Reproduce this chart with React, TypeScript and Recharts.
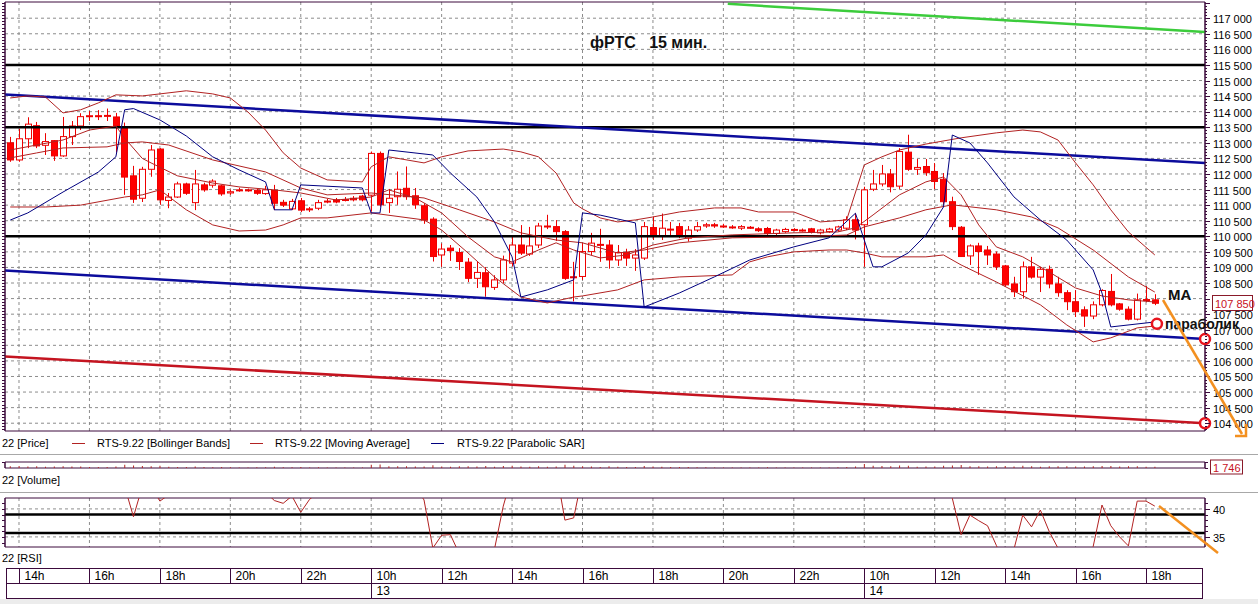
import React from "react";
import {
  ComposedChart,
  Bar,
  Line,
  XAxis,
  YAxis,
  CartesianGrid,
  ReferenceLine,
  ReferenceDot,
  ReferenceArea,
} from "recharts";

// 15-minute candles, index 0 = 13:45 on the 12th
const opens = [
  113000, 112450, 113130, 113550, 112920, 113070, 112580, 113200, 113540, 113840,
  113870, 113860, 113830, 113500, 111940, 111220, 112150, 112800, 111150, 111260,
  111680, 111080, 111650, 111640, 111620, 111390, 111490, 111490, 111480, 111370,
  111470, 111090, 110880, 111140, 110880, 110900, 111110, 111170, 111180, 111220,
  111290, 111320, 112660, 111080, 111270, 111540, 111300, 110980, 110550, 109400,
  109620, 109480, 109170, 108650, 108830, 108360, 108600, 109140, 109720, 109430,
  109720, 110330, 110310, 110150, 108700, 108710, 109510, 109720, 109720, 109240,
  109480, 109300, 109300, 110280, 110010, 110220, 110310, 109940, 110200, 110330,
  110370, 110330, 110300, 110260, 110290, 110240, 110250, 110090, 110150, 110220,
  110200, 110240, 110110, 110150, 110200, 110260, 110530, 110370, 111510, 111680,
  112000, 111610, 112700, 112150, 112240, 112080, 111830, 111110, 110290, 109370,
  109690, 109560, 109430, 109050, 108470, 108220, 109020, 108690, 108940, 108470,
  108190, 107900, 107640, 107440, 107800, 108230, 107830, 107660, 107340, 107960,
  107960,
];
const closes = [
  112450, 113130, 113600, 112900, 113040, 112580, 113200, 113540, 113840, 113870,
  113860, 113880, 113540, 111900, 111190, 112150, 112770, 111170, 111260, 111680,
  111380, 111680, 111490, 111770, 111360, 111430, 111490, 111480, 111380, 111490,
  111060, 111000, 111120, 110840, 110850, 111080, 111130, 111100, 111170, 111170,
  111170, 112660, 111010, 111220, 111510, 111270, 111010, 110520, 109350, 109590,
  109540, 109190, 108650, 108840, 108380, 108600, 109240, 109720, 109460, 109690,
  110330, 110330, 110150, 108650, 108680, 109510, 109780, 109740, 109240, 109480,
  109300, 109400, 110310, 110010, 110260, 110230, 110010, 110200, 110310, 110370,
  110330, 110320, 110290, 110310, 110290, 110180, 110090, 110200, 110220, 110220,
  110200, 110130, 110200, 110230, 110300, 110530, 110200, 111490, 111680, 112000,
  111590, 112720, 112150, 112210, 112040, 111760, 111110, 110310, 109350, 109690,
  109510, 109400, 109020, 108440, 108220, 109020, 108690, 108940, 108470, 108190,
  107900, 107580, 107440, 107800, 108260, 107800, 107660, 107340, 107960, 107970,
  107850,
];
const highs = [
  113190, 113450, 113820, 113670, 113310, 113090, 113830, 113700, 113950, 114020,
  114050, 114100, 113960, 113650, 112260, 112230, 112930, 112830, 111390, 111750,
  111720, 112130, 111720, 111830, 111650, 111500, 111560, 111530, 111520, 111620,
  111650, 111170, 111200, 111230, 110940, 111170, 111200, 111230, 111260, 111290,
  111330, 112720, 112720, 111520, 112080, 112240, 111550, 111060, 110610, 109770,
  109720, 109620, 109300, 109180, 109010, 108750, 109380, 110040, 110360, 110300,
  110430, 110690, 110520, 110200, 109180, 109780, 110110, 110240, 109880, 109720,
  109600, 109590, 110460, 110630, 110730, 110460, 110430, 110330, 110460, 110430,
  110430, 110400, 110360, 110360, 110330, 110290, 110300, 110240, 110270, 110260,
  110250, 110270, 110240, 110270, 110340, 110640, 110740, 111590, 112130, 112290,
  112160, 112830, 113260, 112480, 112480, 112350, 112030, 111270, 110330, 109740,
  109790, 109690, 109510, 109080, 108700, 109190, 109340, 109020, 109060, 108700,
  108270, 108270, 107750, 107910, 108300, 108790, 107860, 107750, 108160, 108400,
  108140,
];
const lows = [
  112390, 112390, 112830, 112830, 112610, 112420, 112550, 112930, 113410, 113700,
  113730, 113700, 112690, 111330, 111070, 111100, 111910, 111010, 110900, 111230,
  111330, 110840, 111430, 111560, 111300, 111330, 111430, 111430, 111330, 111330,
  110840, 110940, 110840, 110780, 110780, 110840, 111060, 111060, 111120, 111120,
  111120, 110790, 110950, 110750, 111010, 111170, 110880, 110400, 109190, 109020,
  109210, 108920, 108530, 108340, 108060, 108280, 108500, 109030, 109400, 109370,
  109620, 110230, 109850, 108600, 107910, 108600, 109400, 109180, 108960, 109050,
  109050, 108890, 109240, 109880, 109880, 110010, 109940, 109830, 110140, 110270,
  110270, 110270, 110240, 110200, 110240, 110140, 110040, 110040, 110110, 110160,
  110150, 110090, 110060, 110110, 110150, 110200, 109900, 109020, 111450, 111600,
  111410, 111520, 112100, 111970, 111940, 111510, 111010, 110200, 109350, 109080,
  108760, 109080, 108920, 108380, 108050, 108000, 108640, 108210, 108330, 108060,
  107630, 107410, 107090, 107340, 107750, 107750, 107610, 107300, 107300, 107880,
  107790,
];
const volumes = [
  2200, 2600, 2000, 2400, 1800, 2100, 2300, 2000, 1900, 1500,
  1300, 1400, 1900, 4200, 3200, 2600, 2300, 3100, 1700, 1500,
  1400, 1900, 1200, 1100, 1300, 900, 800, 700, 900, 1000,
  1600, 900, 1000, 1200, 800, 900, 700, 800, 600, 700,
  800, 4500, 4800, 2400, 2200, 2300, 1900, 2000, 3800, 2100,
  1700, 2200, 2500, 2000, 2700, 1800, 2600, 2900, 2000, 1800,
  2500, 1600, 2100, 4300, 3000, 2400, 1900, 1500, 2200, 1700,
  1400, 1300, 2600, 1900, 1600, 1200, 1400, 1300, 1000, 900,
  800, 800, 700, 700, 800, 700, 900, 800, 700, 600,
  600, 800, 700, 800, 900, 1500, 1900, 5200, 3100, 2600,
  2300, 3400, 3000, 1800, 2000, 2100, 2900, 3200, 3900, 2200,
  2300, 1900, 2400, 2800, 2100, 3000, 2200, 1800, 2300, 2200,
  2400, 2100, 2000, 2300, 2600, 2800, 1900, 2200, 2500, 1700,
  1746,
];
const rsi = [
  52, 55, 58, 54, 55, 53, 57, 60, 62, 63,
  62, 63, 58, 44, 38.6, 44, 44, 41.4, 42.5, 44,
  43, 45, 44, 45, 44, 44, 44.5, 44.5, 44, 43,
  41.5, 41.0, 42.3, 39.4, 41.7, 43, 44, 44, 44.5, 44,
  43.5, 52, 45, 46, 47, 46, 44, 41.6, 33.0, 35.3,
  35.4, 32.0, 28, 29, 27, 32.8, 40.5, 46, 45, 46,
  50, 50, 47, 38.0, 38.4, 46, 48, 47, 45, 46,
  45, 45, 52, 50, 51, 51, 49, 50, 51, 51,
  51, 51, 50, 51, 51, 50, 49, 50, 50, 50,
  50, 49, 50, 50, 51, 54, 51, 58, 60, 62,
  59, 62, 60, 59, 57, 54, 46, 41.9, 35.4, 38.9,
  37.9, 37.0, 33.5, 30, 32.8, 38.9, 36.8, 39.8, 36, 33.0,
  30, 29, 28, 33.3, 40.7, 37.0, 35, 33.4, 41.4, 41.4,
  40.5,
];

type Pt = [number, number];

// indicator lines, [candle index, price]
const bbUpper: Pt[] = [
  [0, 114440], [2, 114505], [4, 114470], [6, 113960], [8, 114060], [10, 114280], [12, 114540],
  [15, 114505], [17, 114570], [20, 114670], [23, 114570], [25, 114440], [27, 113990], [29, 113410],
  [31, 112680], [33, 112190], [36, 111810], [40, 111745], [41, 112230], [43, 112550], [47, 112355],
  [49, 112550], [52, 112740], [56, 112800], [58, 112710], [60, 112550], [62, 112030], [64, 111070],
  [65, 110880], [67, 110590], [69, 110460], [71, 110525], [73, 110620], [76, 110780], [80, 110910],
  [83, 110910], [85, 110780], [89, 110780], [92, 110460], [95, 110525], [97, 112290], [99, 112550],
  [101, 112770], [104, 112960], [108, 113160], [112, 113320], [115, 113410], [117, 113350],
  [119, 113090], [121, 112355], [123, 111650], [125, 110850], [127, 110140], [130, 109400],
];
const bbMiddle: Pt[] = [
  [0, 112515], [3, 112675], [6, 112835], [11, 112870], [13, 112995], [15, 113030], [18, 112930],
  [23, 112450], [29, 112065], [33, 111550], [36, 111330], [41, 111390], [47, 111230], [51, 110850],
  [55, 110460], [58, 110110], [62, 109880], [65, 109790], [69, 109460], [72, 109560], [76, 109790],
  [82, 109950], [89, 109980], [95, 110040], [97, 110300], [101, 110590], [104, 110850], [107, 111010],
  [112, 110850], [116, 110620], [119, 110270], [123, 109560], [127, 108695], [130, 108210],
];
const bbLower: Pt[] = [
  [0, 110940], [4, 110940], [8, 111000], [13, 111260], [15, 111330], [17, 111490], [20, 110850],
  [23, 110365], [26, 110170], [29, 110200], [31, 110365], [33, 110590], [36, 110590], [41, 110750],
  [47, 110525], [49, 110200], [52, 109465], [55, 108695], [58, 108050], [61, 107860], [64, 108050],
  [65, 108085], [69, 108280], [72, 108600], [76, 108695], [82, 108760], [84, 109180], [86, 109340],
  [89, 109500], [93, 109560], [95, 109560], [97, 109465], [99, 109340], [104, 109340], [106, 109400],
  [108, 109080], [112, 108535], [117, 107800], [120, 107155], [123, 106610], [125, 106740],
  [128, 107060], [130, 107120],
];
const movingAvg: Pt[] = [
  [0, 112770], [3, 112930], [6, 113090], [9, 113410], [12, 113540], [13, 113150], [15, 112500],
  [16, 112355], [19, 111940], [23, 111710], [26, 111585], [30, 111490], [33, 111390], [37, 111165],
  [41, 111260], [43, 111490], [46, 111230], [49, 110750], [52, 109980], [55, 109340], [57, 109175],
  [60, 109560], [62, 109790], [64, 109560], [67, 109305], [70, 109400], [73, 109720], [77, 109950],
  [82, 110045], [89, 110110], [94, 110140], [96, 110270], [98, 110685], [101, 111330], [104, 111745],
  [106, 111905], [108, 111330], [110, 110365], [112, 109660], [115, 109340], [118, 108855],
  [121, 108340], [124, 108085], [127, 107960], [130, 107890],
];
const parabolicSar: Pt[] = [
  [0, 110520], [2, 110750], [6, 111420], [10, 112060], [12, 112550], [13, 114060], [14, 114100],
  [17, 113735], [20, 113220], [23, 112550], [26, 112130], [29, 111745], [30, 110850], [32, 110850],
  [33, 111650], [40, 111550], [41, 110750], [42, 110750], [43, 112770], [48, 112610], [50, 112030],
  [53, 111260], [55, 110460], [57, 109340], [58, 108050], [61, 108280], [64, 108600], [65, 110750],
  [67, 110680], [71, 110430], [72, 107730], [76, 108180], [80, 108700], [84, 109240], [89, 109660],
  [93, 109950], [96, 110740], [98, 109020], [99, 109020], [102, 109465], [104, 110040], [106, 110940],
  [107, 113250], [109, 112996], [111, 112355], [114, 111265], [117, 110525], [120, 109880],
  [123, 108920], [124, 108180], [125, 107090], [130, 107250],
];

const X_DOMAIN: [number, number] = [-0.59, 135.7];
const PRICE_DOMAIN: [number, number] = [103750, 117520];
const RSI_DOMAIN: [number, number] = [33.2, 41.95];
const VOL_DOMAIN: [number, number] = [0, 8000];

// hand-drawn lines
const channelTop: Pt[] = [[X_DOMAIN[0], 114550], [X_DOMAIN[1], 112350]];
const channelBottom: Pt[] = [[X_DOMAIN[0], 108900], [X_DOMAIN[1], 106700]];
const greenTrend: Pt[] = [[81.5, 117460], [X_DOMAIN[1], 116560]];
const redTrend: Pt[] = [[X_DOMAIN[0], 106140], [X_DOMAIN[1], 104000]];
const levels = [115500, 113500, 110000];
const rsiLevels = [39, 35.7];
const sarMark: Pt = [130.24, 107190];

const hourTicks = [1, 9, 17, 25, 33, 41, 49, 57, 65, 73, 81, 89, 97, 105, 113, 121, 129];
const hourLabels = ["14h", "16h", "18h", "20h", "22h", "10h", "12h", "14h", "16h", "18h", "20h", "22h", "10h", "12h", "14h", "16h", "18h"];
const dayLabels: Record<number, string> = { 41: "13", 97: "14" };

const lastClose = closes[closes.length - 1];
const lastVolume = volumes[volumes.length - 1];

const gridPrices: number[] = [];
for (let v = 104000; v <= 117000; v += 500) gridPrices.push(v);
const minorPrices: number[] = [];
for (let v = 103800; v <= 117500; v += 100) minorPrices.push(v);
const rsiTicks = [34, 35, 36, 37, 38, 39, 40, 41];

const FONT = '"Liberation Sans", Arial, sans-serif';
const AXIS = "#3c0a3c";
const GRID = "#8c8c8c";
const CANDLE = "#ee0000";
const BAND = "#b22222";
const ORANGE = "#f39020";

const fmt = (v: number) => String(v).replace(/\B(?=(\d{3})+(?!\d))/g, " ");

const priceRows = (() => {
  const rows = new Map<number, Record<string, any>>();
  const at = (i: number) => {
    let r = rows.get(i);
    if (!r) {
      r = { i };
      rows.set(i, r);
    }
    return r;
  };
  opens.forEach((o, i) =>
    Object.assign(at(i), { open: o, close: closes[i], high: highs[i], low: lows[i], range: [lows[i], highs[i]] })
  );
  const put = (key: string, pts: Pt[]) => pts.forEach(([i, v]) => (at(i)[key] = v));
  put("bbU", bbUpper);
  put("bbM", bbMiddle);
  put("bbL", bbLower);
  put("ma", movingAvg);
  put("sar", parabolicSar);
  put("chTop", channelTop);
  put("chBot", channelBottom);
  put("green", greenTrend);
  put("red", redTrend);
  return [...rows.values()].sort((a, b) => a.i - b.i);
})();
const volumeRows = volumes.map((v, i) => ({ i, v }));
const rsiRows = rsi.map((v, i) => ({ i, rsi: v }));

const Candle = (props: any) => {
  const { x, y, width, height, payload } = props;
  if (!payload || payload.open == null || !isFinite(y) || !isFinite(height)) return null;
  const { open, close, high, low } = payload;
  const top0 = Math.min(y, y + height);
  const h = Math.abs(height);
  const k = h / (high - low);
  const cx = Math.round(x + width / 2);
  const yOf = (v: number) => top0 + (high - v) * k;
  const bTop = yOf(Math.max(open, close));
  const bBot = yOf(Math.min(open, close));
  const up = close > open;
  return (
    <g>
      <line x1={cx + 0.5} x2={cx + 0.5} y1={top0} y2={top0 + h} stroke={CANDLE} strokeWidth={1} />
      <rect
        x={cx - 2.5}
        y={bTop}
        width={6}
        height={Math.max(bBot - bTop, 1)}
        fill={up ? "#ffffff" : "#ff0000"}
        stroke={CANDLE}
        strokeWidth={1}
      />
    </g>
  );
};

const EdgeTick = (props: any) => {
  const { x, y } = props;
  const yy = Math.round(y) + 0.5;
  return <line x1={x} x2={x - 3} y1={yy} y2={yy} stroke={AXIS} />;
};

const PriceTick = (props: any) => {
  const { x, y, payload } = props;
  const v = payload.value;
  const ax = Math.round(x);
  const yy = Math.round(y) + 0.5;
  if (v === lastClose) {
    return (
      <g>
        <rect x={ax + 7.5} y={yy - 8} width={40} height={15} fill="#fff" stroke="#8a1a2a" />
        <text x={ax + 10} y={yy + 4} fontSize={11} fontFamily={FONT} fill="#c8101e">
          {fmt(v)}
        </text>
      </g>
    );
  }
  const major = v % 500 === 0;
  return (
    <g>
      <line x1={ax} x2={ax + (major ? 5 : 2)} y1={yy} y2={yy} stroke={AXIS} />
      {major && v <= 117000 && (
        <text x={ax + 8} y={yy + 4} fontSize={11} fontFamily={FONT} fill="#000">
          {fmt(v)}
        </text>
      )}
    </g>
  );
};

const VolumeTick = (props: any) => {
  const { x, y, payload } = props;
  const ax = Math.round(x);
  const yy = Math.round(y) + 0.5;
  if (payload.value === lastVolume) {
    return (
      <g>
        <rect x={ax + 5.5} y={yy - 7.5} width={32} height={14} fill="#fff" stroke="#8a1a2a" />
        <text x={ax + 8} y={yy + 4} fontSize={11} fontFamily={FONT} fill="#c8101e">
          {fmt(payload.value)}
        </text>
      </g>
    );
  }
  return <line x1={ax} x2={ax + 3} y1={yy} y2={yy} stroke={AXIS} />;
};

const RsiTick = (props: any) => {
  const { x, y, payload } = props;
  const v = payload.value;
  const ax = Math.round(x);
  const yy = Math.round(y) + 0.5;
  const major = v % 5 === 0;
  return (
    <g>
      <line x1={ax} x2={ax + (major ? 5 : 3)} y1={yy} y2={yy} stroke={AXIS} />
      {major && (
        <text x={ax + 8} y={yy + 4} fontSize={11} fontFamily={FONT} fill="#000">
          {v}
        </text>
      )}
    </g>
  );
};

const TimeTick = (props: any) => {
  const { x, y, payload } = props;
  const v = payload.value;
  const label = hourLabels[hourTicks.indexOf(v)];
  const day = dayLabels[v];
  const xx = Math.round(x) + 0.5;
  return (
    <g>
      <line x1={xx} x2={xx} y1={y + 21} y2={y + 36} stroke={AXIS} />
      <text x={xx + 5} y={y + 33} fontSize={12} fontFamily={FONT} fill="#000">
        {label}
      </text>
      {day && (
        <>
          <line x1={xx} x2={xx} y1={y + 36} y2={y + 51} stroke={AXIS} />
          <text x={xx + 5} y={y + 48} fontSize={12} fontFamily={FONT} fill="#000">
            {day}
          </text>
        </>
      )}
    </g>
  );
};

const textStyle: React.CSSProperties = {
  position: "absolute",
  fontFamily: FONT,
  fontSize: 11,
  color: "#000",
  whiteSpace: "pre",
  lineHeight: "14px",
};

export default function App() {
  return (
    <div style={{ position: "absolute", left: 0, top: 0, width: 1258, height: 604, background: "#fff", overflow: "hidden" }}>
      <div style={{ position: "absolute", left: 0, top: 0 }}>
        <ComposedChart width={1258} height={433} data={priceRows} margin={{ top: 2, right: 0, bottom: 2, left: 0 }}>
          <CartesianGrid stroke={GRID} strokeDasharray="3 3" horizontalValues={gridPrices} verticalValues={hourTicks} />
          <XAxis dataKey="i" type="number" domain={X_DOMAIN} allowDataOverflow hide ticks={hourTicks} />
          <YAxis
            yAxisId="l"
            orientation="left"
            width={5}
            domain={PRICE_DOMAIN}
            allowDataOverflow
            ticks={minorPrices}
            interval={0}
            tickSize={0}
            tickMargin={0}
            tickLine={false}
            axisLine={{ stroke: AXIS }}
            tick={<EdgeTick />}
          />
          <YAxis
            orientation="right"
            width={53}
            domain={PRICE_DOMAIN}
            allowDataOverflow
            ticks={[...minorPrices, lastClose]}
            interval={0}
            tickSize={0}
            tickMargin={0}
            tickLine={false}
            axisLine={{ stroke: AXIS }}
            tick={<PriceTick />}
          />
          {levels.map((v) => (
            <ReferenceLine key={v} y={v} stroke="#000" strokeWidth={2.5} />
          ))}
          <Line dataKey="green" stroke="#3ccc3c" strokeWidth={2.5} dot={false} connectNulls isAnimationActive={false} />
          <Line dataKey="chTop" stroke="#0c0c9c" strokeWidth={2.5} dot={false} connectNulls isAnimationActive={false} />
          <Line dataKey="chBot" stroke="#0c0c9c" strokeWidth={2.5} dot={false} connectNulls isAnimationActive={false} />
          <Line dataKey="red" stroke="#c41420" strokeWidth={2.5} dot={false} connectNulls isAnimationActive={false} />
          <Line dataKey="bbU" stroke={BAND} strokeWidth={1} dot={false} connectNulls isAnimationActive={false} />
          <Line dataKey="bbM" stroke={BAND} strokeWidth={1} dot={false} connectNulls isAnimationActive={false} />
          <Line dataKey="bbL" stroke={BAND} strokeWidth={1} dot={false} connectNulls isAnimationActive={false} />
          <Line dataKey="ma" stroke={BAND} strokeWidth={1} dot={false} connectNulls isAnimationActive={false} />
          <Line dataKey="sar" stroke="#000080" strokeWidth={1} dot={false} connectNulls isAnimationActive={false} />
          <Bar dataKey="range" barSize={7} shape={<Candle />} isAnimationActive={false} />
          <ReferenceArea
            x1={X_DOMAIN[0]}
            x2={X_DOMAIN[1]}
            y1={PRICE_DOMAIN[0]}
            y2={PRICE_DOMAIN[1]}
            fill="none"
            stroke={AXIS}
            ifOverflow="visible"
          />
          <ReferenceDot x={channelBottom[1][0]} y={channelBottom[1][1]} r={5} fill="#fff" stroke="#e8141e" strokeWidth={2.5} ifOverflow="visible" />
          <ReferenceDot x={redTrend[1][0]} y={redTrend[1][1]} r={5} fill="#fff" stroke="#e8141e" strokeWidth={2.5} ifOverflow="visible" />
          <ReferenceDot x={sarMark[0]} y={sarMark[1]} r={5} fill="#fff" stroke="#e8141e" strokeWidth={2.5} ifOverflow="visible" />
        </ComposedChart>
      </div>

      <div style={{ ...textStyle, left: 590, top: 33, fontSize: 16, fontWeight: 700, lineHeight: "20px", color: "#111" }}>
        {"фРТС   15 мин."}
      </div>
      <div style={{ ...textStyle, left: 1168, top: 286, fontSize: 15, fontWeight: 700, lineHeight: "18px", color: "#111" }}>MA</div>
      <div style={{ ...textStyle, left: 1165, top: 315, fontSize: 14, fontWeight: 700, lineHeight: "18px", color: "#111" }}>параболик</div>

      {/* legend row */}
      <div style={{ ...textStyle, left: 2, top: 436 }}>22 [Price]</div>
      <div style={{ position: "absolute", left: 72, top: 443, width: 13, height: 1, background: BAND }} />
      <div style={{ ...textStyle, left: 97, top: 436 }}>RTS-9.22 [Bollinger Bands]</div>
      <div style={{ position: "absolute", left: 250, top: 443, width: 13, height: 1, background: BAND }} />
      <div style={{ ...textStyle, left: 275, top: 436 }}>RTS-9.22 [Moving Average]</div>
      <div style={{ position: "absolute", left: 431, top: 443, width: 13, height: 1, background: "#000080" }} />
      <div style={{ ...textStyle, left: 457, top: 436 }}>RTS-9.22 [Parabolic SAR]</div>
      <div style={{ position: "absolute", left: 0, top: 454, width: 1258, height: 1, background: "#a8a8a8" }} />

      <div style={{ position: "absolute", left: 0, top: 452 }}>
        <ComposedChart width={1258} height={26} data={volumeRows} margin={{ top: 10, right: 0, bottom: 10, left: 0 }}>
          <XAxis dataKey="i" type="number" domain={X_DOMAIN} allowDataOverflow hide />
          <YAxis
            yAxisId="l"
            orientation="left"
            width={5}
            domain={VOL_DOMAIN}
            allowDataOverflow
            ticks={[VOL_DOMAIN[1]]}
            interval={0}
            tickSize={0}
            tickMargin={0}
            tickLine={false}
            axisLine={{ stroke: AXIS }}
            tick={<EdgeTick />}
          />
          <YAxis
            orientation="right"
            width={53}
            domain={VOL_DOMAIN}
            allowDataOverflow
            ticks={[0, VOL_DOMAIN[1], lastVolume]}
            interval={0}
            tickSize={0}
            tickMargin={0}
            tickLine={false}
            axisLine={{ stroke: AXIS }}
            tick={<VolumeTick />}
          />
          <Bar dataKey="v" fill={BAND} barSize={1} isAnimationActive={false} />
          <ReferenceArea
            x1={X_DOMAIN[0]}
            x2={X_DOMAIN[1]}
            y1={VOL_DOMAIN[0]}
            y2={VOL_DOMAIN[1]}
            fill="none"
            stroke={AXIS}
            ifOverflow="visible"
          />
        </ComposedChart>
      </div>
      <div style={{ ...textStyle, left: 2, top: 473 }}>22 [Volume]</div>
      <div style={{ position: "absolute", left: 0, top: 492, width: 1258, height: 1, background: "#a8a8a8" }} />

      <div style={{ position: "absolute", left: 0, top: 496 }}>
        <ComposedChart width={1258} height={102} data={rsiRows} margin={{ top: 2, right: 0, bottom: 0, left: 0 }}>
          <CartesianGrid stroke={GRID} strokeDasharray="3 3" horizontalValues={[35, 40]} verticalValues={hourTicks} />
          <XAxis
            dataKey="i"
            type="number"
            domain={X_DOMAIN}
            allowDataOverflow
            height={51}
            ticks={hourTicks}
            interval={0}
            tickSize={0}
            tickMargin={0}
            axisLine={false}
            tickLine={false}
            tick={<TimeTick />}
          />
          <YAxis
            yAxisId="l"
            orientation="left"
            width={5}
            domain={RSI_DOMAIN}
            allowDataOverflow
            ticks={rsiTicks}
            interval={0}
            tickSize={0}
            tickMargin={0}
            tickLine={false}
            axisLine={{ stroke: AXIS }}
            tick={<EdgeTick />}
          />
          <YAxis
            orientation="right"
            width={53}
            domain={RSI_DOMAIN}
            allowDataOverflow
            ticks={rsiTicks}
            interval={0}
            tickSize={0}
            tickMargin={0}
            tickLine={false}
            axisLine={{ stroke: AXIS }}
            tick={<RsiTick />}
          />
          {rsiLevels.map((v) => (
            <ReferenceLine key={v} y={v} stroke="#000" strokeWidth={2.5} />
          ))}
          <Line dataKey="rsi" stroke={BAND} strokeWidth={1} dot={false} isAnimationActive={false} />
          <ReferenceArea
            x1={X_DOMAIN[0]}
            x2={X_DOMAIN[1]}
            y1={RSI_DOMAIN[0]}
            y2={RSI_DOMAIN[1]}
            fill="none"
            stroke={AXIS}
            ifOverflow="visible"
          />
        </ComposedChart>
      </div>
      <div style={{ ...textStyle, left: 2, top: 551 }}>22 [RSI]</div>

      {/* time axis table frame */}
      <svg width={1258} height={604} style={{ position: "absolute", left: 0, top: 0, pointerEvents: "none" }}>
        <rect x={6.5} y={568.5} width={1196} height={30} fill="none" stroke={AXIS} />
        <line x1={6.5} x2={1202.5} y1={583.5} y2={583.5} stroke={AXIS} />
        <rect x={0} y={599} width={1258} height={5} fill="#ececec" />
        {/* hand-drawn arrows */}
        <line x1={1163} y1={300} x2={1242} y2={434} stroke={ORANGE} strokeWidth={2.5} />
        <path d="M1235 436 L1246 436 L1246 424" fill="none" stroke={ORANGE} strokeWidth={2.5} />
        <line x1={1159} y1={506} x2={1218} y2={553} stroke={ORANGE} strokeWidth={2.5} />
      </svg>
    </div>
  );
}
